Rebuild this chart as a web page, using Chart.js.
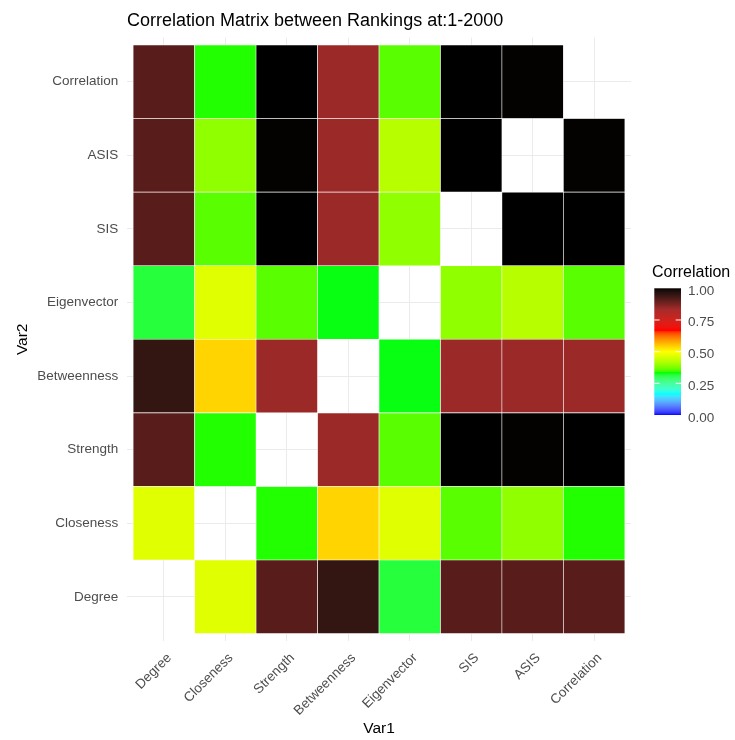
<!DOCTYPE html>
<html>
<head>
<meta charset="utf-8">
<title>Correlation Matrix between Rankings</title>
<script src="https://cdn.jsdelivr.net/npm/chart.js@4.4.0/dist/chart.umd.min.js"></script>
<style>
  html, body { margin: 0; padding: 0; background: #ffffff; }
  #wrap { width: 735px; height: 740px; }
</style>
</head>
<body>
<div id="wrap"><canvas id="heat" width="735" height="740"></canvas></div>
<script>
// rankings compared (Var1 along x, Var2 along y, Degree at the bottom)
const vars = ['Degree', 'Closeness', 'Strength', 'Betweenness', 'Eigenvector', 'SIS', 'ASIS', 'Correlation'];

// one row per Var2, values in Var1 order, null on the diagonal
const degree      = [null, 0.466, 0.91, 0.95, 0.317, 0.91, 0.91, 0.91];
const closeness   = [0.466, null, 0.337, 0.539, 0.466, 0.356, 0.391, 0.337];
const strength    = [0.91, 0.337, null, 0.843, 0.356, 1.0, 0.998, 1.0];
const betweenness = [0.95, 0.539, 0.843, null, 0.331, 0.843, 0.843, 0.843];
const eigenvector = [0.317, 0.466, 0.356, 0.331, null, 0.391, 0.425, 0.356];
const sis         = [0.91, 0.356, 1.0, 0.843, 0.391, null, 1.0, 1.0];
const asis        = [0.91, 0.391, 0.998, 0.843, 0.425, 1.0, null, 0.998];
const correlation = [0.91, 0.337, 1.0, 0.843, 0.356, 1.0, 0.998, null];

const legendTicks = [0, 0.25, 0.5, 0.75, 1];
const paletteColours = ['#0000FF', '#00FFFF', '#00FF00', '#FFFF00', '#FF0000', '#A52A2A', '#000000'];

const FONT = '"Liberation Sans", Arial, Helvetica, sans-serif';
Chart.defaults.font.family = FONT;

// --- colour ramp, interpolated in Lab space like ggplot's gradientn ---
const WX = 0.95047, WY = 1.0, WZ = 1.08883;
function toLin(c) {
    c /= 255;
    return c <= 0.04045 ? c / 12.92 : Math.pow((c + 0.055) / 1.055, 2.4);
}
function fromLin(c) {
    c = Math.min(1, Math.max(0, c));
    const v = c <= 0.0031308 ? 12.92 * c : 1.055 * Math.pow(c, 1 / 2.4) - 0.055;
    return Math.round(v * 255);
}
function hexToLab(hex) {
    const n = parseInt(hex.slice(1), 16);
    const r = toLin((n >> 16) & 255), g = toLin((n >> 8) & 255), b = toLin(n & 255);
    const x = (0.4124 * r + 0.3576 * g + 0.1805 * b) / WX;
    const y = (0.2126 * r + 0.7152 * g + 0.0722 * b) / WY;
    const z = (0.0193 * r + 0.1192 * g + 0.9505 * b) / WZ;
    const f = t => t > 0.008856 ? Math.cbrt(t) : 7.787 * t + 16 / 116;
    const fx = f(x), fy = f(y), fz = f(z);
    return [116 * fy - 16, 500 * (fx - fy), 200 * (fy - fz)];
}
function labToCss(lab) {
    const fy = (lab[0] + 16) / 116, fx = fy + lab[1] / 500, fz = fy - lab[2] / 200;
    const inv = t => t > 0.206893 ? t * t * t : (t - 16 / 116) / 7.787;
    const x = WX * inv(fx), y = WY * inv(fy), z = WZ * inv(fz);
    const r = 3.2406 * x - 1.5372 * y - 0.4986 * z;
    const g = -0.9689 * x + 1.8758 * y + 0.0415 * z;
    const b = 0.0557 * x - 0.2040 * y + 1.0570 * z;
    return 'rgb(' + fromLin(r) + ',' + fromLin(g) + ',' + fromLin(b) + ')';
}
const paletteLab = paletteColours.map(hexToLab);
function fillFor(v) {
    const n = paletteLab.length - 1;
    const p = Math.min(Math.max(v, 0), 1) * n;
    const i = Math.min(Math.floor(p), n - 1);
    const t = p - i;
    const a = paletteLab[i], b = paletteLab[i + 1];
    return labToCss([a[0] + (b[0] - a[0]) * t, a[1] + (b[1] - a[1]) * t, a[2] + (b[2] - a[2]) * t]);
}

// --- one floating-bar dataset per Var2 row ---
const rows = [degree, closeness, strength, betweenness, eigenvector, sis, asis, correlation];
const datasets = rows.map((row, j) => ({
    label: vars[j],
    data: row.map((v, i) => v === null ? null : { x: i, y: [j, j + 1], v: v }).filter(d => d),
    backgroundColor: ctx => ctx.raw ? fillFor(ctx.raw.v) : '#ffffff',
    borderColor: '#ffffff',
    borderWidth: 0.6,
    borderSkipped: false,
    barPercentage: 1,
    categoryPercentage: 1
}));

// colourbar legend on the right
const colourBar = {
    id: 'colourBar',
    afterDraw(chart) {
        const ctx = chart.ctx;
        const left = 654.3, width = 26.7, top = 288.3, bottom = 415;
        ctx.save();
        ctx.fillStyle = '#000000';
        ctx.font = '16px ' + FONT;
        ctx.textAlign = 'left';
        ctx.textBaseline = 'alphabetic';
        ctx.fillText('Correlation', 652, 277);

        const grad = ctx.createLinearGradient(0, bottom, 0, top);
        for (let k = 0; k <= 120; k++) {
            grad.addColorStop(k / 120, fillFor(k / 120));
        }
        ctx.fillStyle = grad;
        ctx.fillRect(left, top, width, bottom - top);

        ctx.strokeStyle = '#ffffff';
        ctx.lineWidth = 1;
        ctx.font = '13.5px ' + FONT;
        ctx.fillStyle = '#4d4d4d';
        legendTicks.forEach(v => {
            const y = bottom - v * (bottom - top);
            if (v > 0 && v < 1) {
                ctx.beginPath();
                ctx.moveTo(left, y); ctx.lineTo(left + 5.3, y);
                ctx.moveTo(left + width - 5.3, y); ctx.lineTo(left + width, y);
                ctx.stroke();
            }
            ctx.fillText(v.toFixed(2), 688, y + 6.5);
        });
        ctx.restore();
    }
};

new Chart(document.getElementById('heat').getContext('2d'), {
    type: 'bar',
    data: { datasets: datasets },
    options: {
        responsive: false,
        animation: false,
        devicePixelRatio: 1,
        layout: { padding: { left: 0, right: 104, top: 0, bottom: 0 } },
        plugins: {
            legend: { display: false },
            tooltip: { enabled: false },
            title: {
                display: true,
                text: 'Correlation Matrix between Rankings at:1-2000',
                align: 'start',
                fullSize: false,
                color: '#000000',
                font: { size: 18, weight: 'normal' },
                padding: { top: 10.3, bottom: 5.7 }
            }
        },
        scales: {
            x: {
                type: 'linear',
                min: -0.6,
                max: 7.6,
                offset: false,
                stacked: true,
                afterBuildTicks: s => { s.ticks = vars.map((_, i) => ({ value: i })); },
                afterFit: s => { s.height = 99; },
                grid: { color: '#ebebeb', lineWidth: 1, drawTicks: false, offset: false },
                border: { display: false },
                ticks: {
                    autoSkip: false,
                    minRotation: 45,
                    maxRotation: 45,
                    padding: 9,
                    labelOffset: 5.5,
                    color: '#4d4d4d',
                    font: { size: 13.5 },
                    callback: v => vars[Math.round(v)]
                },
                title: {
                    display: true,
                    text: 'Var1',
                    color: '#000000',
                    font: { size: 15.5 },
                    padding: { top: 0, bottom: 1.5 }
                }
            },
            y: {
                type: 'linear',
                min: -0.1,
                max: 8.1,
                afterBuildTicks: s => { s.ticks = vars.map((_, j) => ({ value: j + 0.5 })); },
                afterFit: s => { s.width = 127; },
                grid: { color: '#ebebeb', lineWidth: 1, drawTicks: false },
                border: { display: false },
                ticks: {
                    autoSkip: false,
                    padding: 8.7,
                    color: '#4d4d4d',
                    font: { size: 13.5 },
                    callback: v => vars[Math.round(v - 0.5)]
                },
                title: {
                    display: true,
                    text: 'Var2',
                    color: '#000000',
                    font: { size: 15.5 },
                    padding: { top: 13.7, bottom: 0 }
                }
            }
        }
    },
    plugins: [colourBar]
});
</script>
</body>
</html>
